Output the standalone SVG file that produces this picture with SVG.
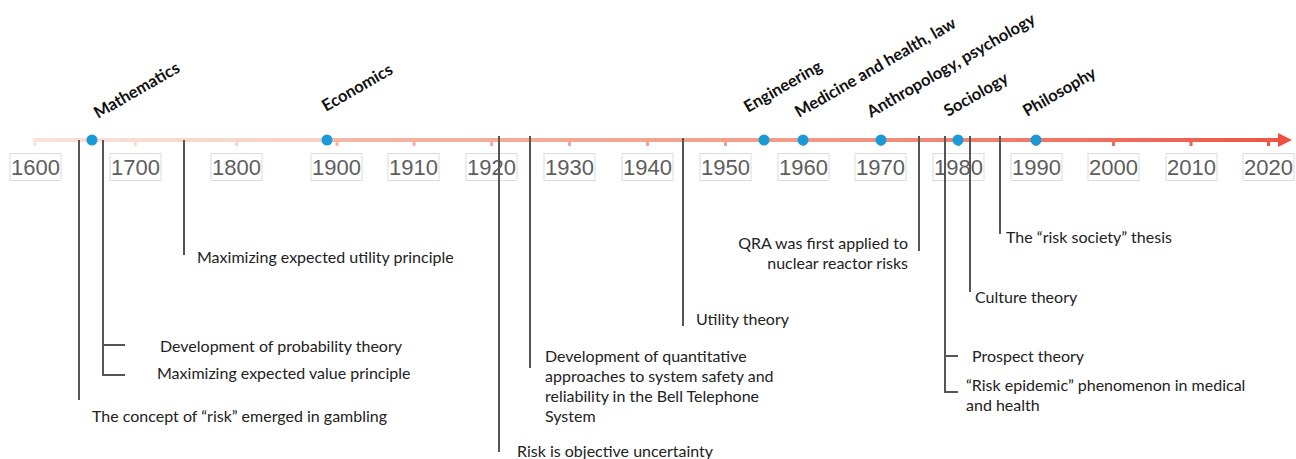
<svg xmlns="http://www.w3.org/2000/svg" width="1296" height="459" viewBox="0 0 1296 459">
<defs>
<linearGradient id="axisGrad" gradientUnits="userSpaceOnUse" x1="33" y1="0" x2="1292" y2="0">
<stop offset="0" stop-color="#fbe2d9"/>
<stop offset="0.235" stop-color="#f8d0c2"/>
<stop offset="0.24" stop-color="#f5b6a3"/>
<stop offset="0.6" stop-color="#f29c88"/>
<stop offset="1" stop-color="#ee5343"/>
</linearGradient>
<style>
.yr{font-family:"Liberation Sans",Arial,sans-serif;font-size:22px;fill:#5e5e5e;text-anchor:middle}
.box{fill:none;stroke:#dcdcdc;stroke-width:1}
.tick{fill:url(#axisGrad)}
.dot{fill:#1a9bd7}
.fld{font-family:Lato,"Liberation Sans",sans-serif;font-size:16.5px;font-weight:bold;fill:#111}
.ev{font-family:Lato,"Liberation Sans",sans-serif;font-size:16px;fill:#222}
.conn{stroke:#555;stroke-width:2;fill:none}
</style>
</defs>
<rect width="1296" height="459" fill="#ffffff"/>
<g id="axis">
<line x1="33" y1="140" x2="1282" y2="140" stroke="url(#axisGrad)" stroke-width="4"/>
<polygon points="1278,133 1292,140 1278,147" fill="#ee4f40"/>
<g class="tick">
<rect x="33.5" y="140" width="3" height="6"/>
<rect x="134" y="140" width="3" height="6"/>
<rect x="235" y="140" width="3" height="6"/>
<rect x="335.5" y="140" width="3" height="6"/>
<rect x="412.5" y="140" width="3" height="6"/>
<rect x="490" y="140" width="3" height="6"/>
<rect x="568" y="140" width="3" height="6"/>
<rect x="646" y="140" width="3" height="6"/>
<rect x="724" y="140" width="3" height="6"/>
<rect x="802" y="140" width="3" height="6"/>
<rect x="879.5" y="140" width="3" height="6"/>
<rect x="957" y="140" width="3" height="6"/>
<rect x="1034.5" y="140" width="3" height="6"/>
<rect x="1112" y="140" width="3" height="6"/>
<rect x="1189.5" y="140" width="3" height="6"/>
<rect x="1267" y="140" width="3" height="6"/>
</g>
</g>
<g id="years">
<g id="y1600"><rect class="box" x="10" y="153.5" width="51" height="27"/><text class="yr" x="35.5" y="175">1600</text></g>
<g id="y1700"><rect class="box" x="110" y="153.5" width="51" height="27"/><text class="yr" x="135.5" y="175">1700</text></g>
<g id="y1800"><rect class="box" x="211" y="153.5" width="51" height="27"/><text class="yr" x="236.5" y="175">1800</text></g>
<g id="y1900"><rect class="box" x="311" y="153.5" width="51" height="27"/><text class="yr" x="336.5" y="175">1900</text></g>
<g id="y1910"><rect class="box" x="388" y="153.5" width="51" height="27"/><text class="yr" x="413.5" y="175">1910</text></g>
<g id="y1920"><rect class="box" x="466" y="153.5" width="51" height="27"/><text class="yr" x="491.5" y="175">1920</text></g>
<g id="y1930"><rect class="box" x="544" y="153.5" width="51" height="27"/><text class="yr" x="569.5" y="175">1930</text></g>
<g id="y1940"><rect class="box" x="622" y="153.5" width="51" height="27"/><text class="yr" x="647.5" y="175">1940</text></g>
<g id="y1950"><rect class="box" x="700" y="153.5" width="51" height="27"/><text class="yr" x="725.5" y="175">1950</text></g>
<g id="y1960"><rect class="box" x="778" y="153.5" width="51" height="27"/><text class="yr" x="803.5" y="175">1960</text></g>
<g id="y1970"><rect class="box" x="855" y="153.5" width="51" height="27"/><text class="yr" x="880.5" y="175">1970</text></g>
<g id="y1980"><rect class="box" x="933" y="153.5" width="51" height="27"/><text class="yr" x="958.5" y="175">1980</text></g>
<g id="y1990"><rect class="box" x="1011" y="153.5" width="51" height="27"/><text class="yr" x="1036.5" y="175">1990</text></g>
<g id="y2000"><rect class="box" x="1088" y="153.5" width="51" height="27"/><text class="yr" x="1113.5" y="175">2000</text></g>
<g id="y2010"><rect class="box" x="1166" y="153.5" width="51" height="27"/><text class="yr" x="1191.5" y="175">2010</text></g>
<g id="y2020"><rect class="box" x="1243" y="153.5" width="51" height="27"/><text class="yr" x="1268.5" y="175">2020</text></g>
</g>
<g id="connectors">
<path class="conn" d="M79,140 V400"/>
<path class="conn" d="M103,140 V375 H125 M103,345 H125"/>
<path class="conn" d="M184,140 V255"/>
<path class="conn" d="M499,136 V452"/>
<path class="conn" d="M530,136 V368"/>
<path class="conn" d="M683,138 V326"/>
<path class="conn" d="M919,136 V251"/>
<path class="conn" d="M945,136 V392 H958 M945,356 H958"/>
<path class="conn" d="M970,136 V292"/>
<path class="conn" d="M1000,136 V234"/>
</g>
<g id="fields">
<g id="f-math"><circle class="dot" cx="92" cy="140" r="5.5"/><text class="fld" transform="translate(98,119) rotate(-30)">Mathematics</text></g>
<g id="f-econ"><circle class="dot" cx="327" cy="140" r="5.5"/><text class="fld" transform="translate(326,112) rotate(-30)">Economics</text></g>
<g id="f-eng"><circle class="dot" cx="764" cy="140" r="5.5"/><text class="fld" transform="translate(748,113) rotate(-30)">Engineering</text></g>
<g id="f-med"><circle class="dot" cx="803" cy="140" r="5.5"/><text class="fld" transform="translate(799,118) rotate(-30)">Medicine and health, law</text></g>
<g id="f-anth"><circle class="dot" cx="881" cy="140" r="5.5"/><text class="fld" transform="translate(871,118) rotate(-30)">Anthropology, psychology</text></g>
<g id="f-soc"><circle class="dot" cx="958" cy="140" r="5.5"/><text class="fld" transform="translate(948,117) rotate(-30)">Sociology</text></g>
<g id="f-phil"><circle class="dot" cx="1036" cy="140" r="5.5"/><text class="fld" transform="translate(1027,117) rotate(-30)">Philosophy</text></g>
</g>
<g id="events">
<g id="e-gambling"><text class="ev" x="92" y="422">The concept of “risk” emerged in gambling</text></g>
<g id="e-prob"><text class="ev" x="160" y="352">Development of probability theory</text></g>
<g id="e-value"><text class="ev" x="157" y="379">Maximizing expected value principle</text></g>
<g id="e-utilprin"><text class="ev" x="197" y="263">Maximizing expected utility principle</text></g>
<g id="e-objective"><text class="ev" x="517" y="457">Risk is objective uncertainty</text></g>
<g id="e-bell"><text class="ev" x="545"><tspan x="545" y="362">Development of quantitative</tspan><tspan x="545" y="382">approaches to system safety and</tspan><tspan x="545" y="402">reliability in the Bell Telephone</tspan><tspan x="545" y="422">System</tspan></text></g>
<g id="e-utility"><text class="ev" x="696" y="325">Utility theory</text></g>
<g id="e-qra"><text class="ev" text-anchor="end"><tspan x="908" y="249">QRA was first applied to</tspan><tspan x="908" y="269">nuclear reactor risks</tspan></text></g>
<g id="e-prospect"><text class="ev" x="972" y="362">Prospect theory</text></g>
<g id="e-epidemic"><text class="ev"><tspan x="966" y="391">“Risk epidemic” phenomenon in medical</tspan><tspan x="966" y="411">and health</tspan></text></g>
<g id="e-culture"><text class="ev" x="975" y="303">Culture theory</text></g>
<g id="e-society"><text class="ev" x="1006" y="243">The “risk society” thesis</text></g>
</g>
</svg>
